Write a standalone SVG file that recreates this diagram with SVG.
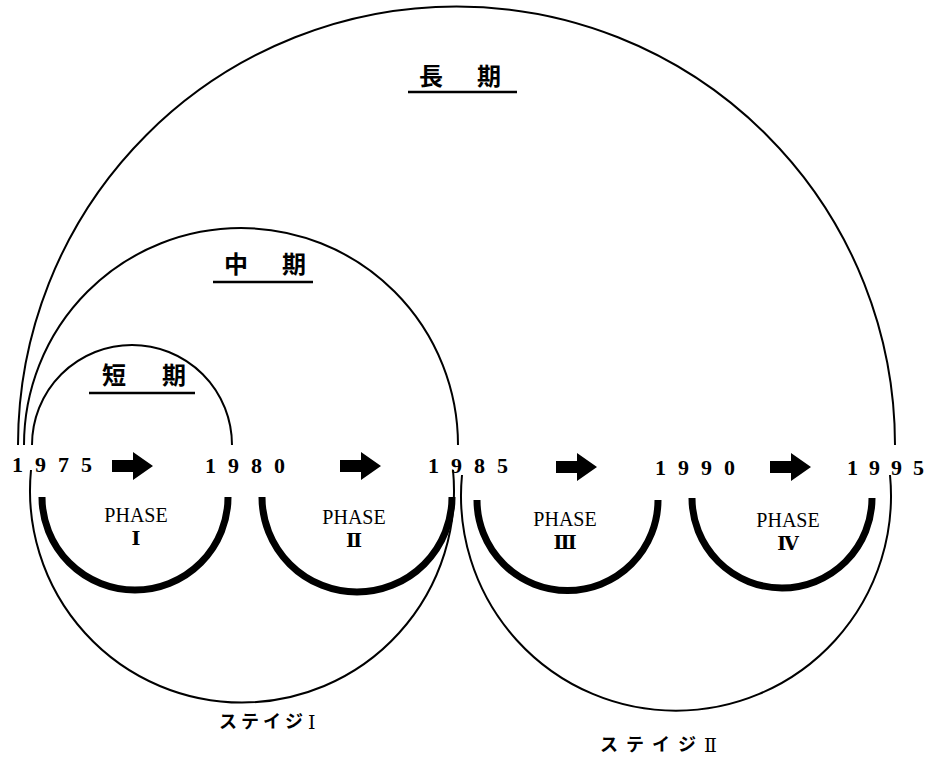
<svg xmlns="http://www.w3.org/2000/svg" width="935" height="769" viewBox="0 0 935 769">
<style>
.thin{fill:none;stroke:#000;stroke-width:2}
.thick{fill:none;stroke:#000;stroke-width:7}
.yr{font-family:"Liberation Serif","DejaVu Serif",serif;font-weight:bold;font-size:22px}
.ph{font-family:"Liberation Serif","DejaVu Serif",serif;font-size:20px;text-anchor:middle}
.num{font-family:"DejaVu Serif","Liberation Serif",serif;font-size:19px;font-weight:bold;text-anchor:middle}
.jp{font-family:"Noto Sans CJK JP",sans-serif;font-weight:bold;font-size:24px}
.st{font-family:"Noto Sans CJK JP",sans-serif;font-weight:bold;font-size:18px}
.stn{font-family:"DejaVu Serif","Liberation Serif",serif;font-size:19px}
.ul{stroke:#000;stroke-width:2.5}
</style>
<defs>
<path id="arr" d="M0,-6 H21 V-14 L41,0 L21,14 V6 H0 Z" fill="#000"/>
</defs>
<g id="connectors">
<path id="long" class="thin" d="M18,445 A438.5,438.5 0 0 1 895,445"/>
<path id="mid" class="thin" d="M24,445 A217,217 0 0 1 458,445"/>
<path id="short" class="thin" d="M32,445 A100,100 0 0 1 232,445"/>
<path id="stage1" class="thin" d="M31,470 A212,212 0 1 0 453,470"/>
<path id="stage2" class="thin" d="M462,475 A215,215 0 1 0 890,475"/>
<path id="phase1" class="thick" d="M42,497 A93,93 0 0 0 228,497"/>
<path id="phase2" class="thick" d="M262,497 A95,95 0 0 0 452,497"/>
<path id="phase3" class="thick" d="M477,500 A90.5,90.5 0 0 0 658,500"/>
<path id="phase4" class="thick" d="M692,498 A90,90 0 0 0 872,498"/>
<use href="#arr" x="112" y="466"/>
<use href="#arr" x="340" y="466"/>
<use href="#arr" x="556" y="467"/>
<use href="#arr" x="770" y="467"/>
</g>
<g id="years">
<text class="yr" x="12 35 58 81" y="472">1975</text>
<text class="yr" x="205 228 251 274" y="473">1980</text>
<text class="yr" x="428 451 474 497" y="473">1985</text>
<text class="yr" x="655 678 701 724" y="475">1990</text>
<text class="yr" x="847 869 891 913" y="475">1995</text>
</g>
<g id="label-long">
<text class="jp" x="419" y="85">長</text><text class="jp" x="477" y="85">期</text>
<line class="ul" x1="408" y1="92" x2="517" y2="92"/>
</g>
<g id="label-mid">
<text class="jp" x="224" y="273">中</text><text class="jp" x="282" y="273">期</text>
<line class="ul" x1="213" y1="282" x2="313" y2="282"/>
</g>
<g id="label-short">
<text class="jp" x="102" y="384">短</text><text class="jp" x="162" y="384">期</text>
<line class="ul" x1="89" y1="393" x2="195" y2="393"/>
</g>
<g id="phase-I"><text class="ph" x="136" y="522">PHASE</text><text class="num" x="136" y="545">Ⅰ</text></g>
<g id="phase-II"><text class="ph" x="354" y="524">PHASE</text><text class="num" x="354" y="547">Ⅱ</text></g>
<g id="phase-III"><text class="ph" x="565" y="526">PHASE</text><text class="num" x="565" y="549">Ⅲ</text></g>
<g id="phase-IV"><text class="ph" x="788" y="527">PHASE</text><text class="num" x="788" y="550">Ⅳ</text></g>
<g id="stage-I"><text class="st" x="219" y="728" letter-spacing="4">ステイジ</text><text class="stn" x="308" y="729">Ⅰ</text></g>
<g id="stage-II"><text class="st" x="600" y="751" letter-spacing="8">ステイジ</text><text class="stn" x="704" y="752">Ⅱ</text></g>
</svg>
